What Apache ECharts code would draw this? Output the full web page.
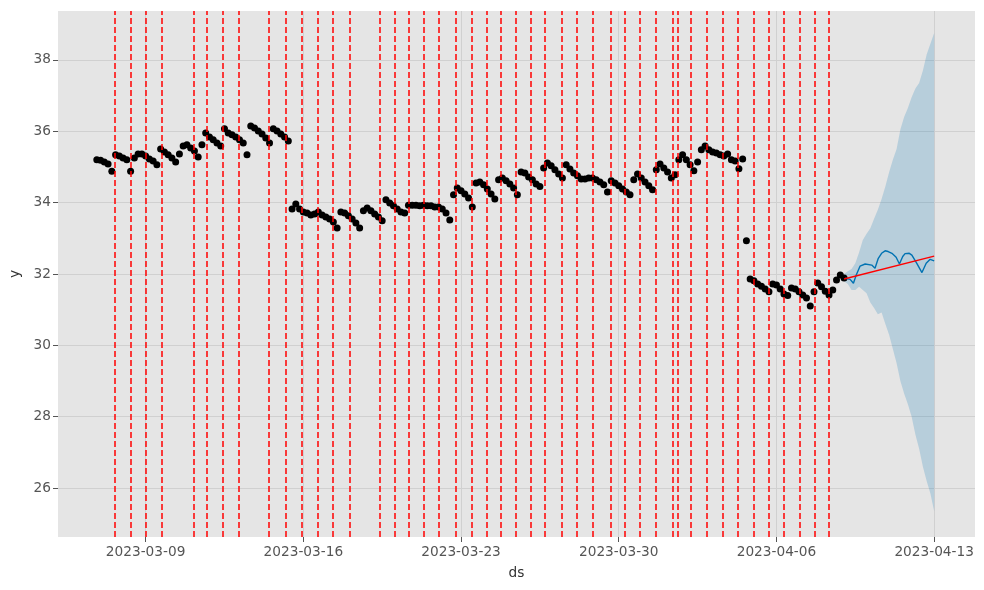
<!DOCTYPE html>
<html>
<head>
<meta charset="utf-8">
<title>forecast with changepoints</title>
<script src="https://cdn.jsdelivr.net/npm/echarts@6/dist/echarts.min.js"></script>
<style>
  html, body { margin: 0; padding: 0; background: #fff; }
  #chart { width: 984px; height: 590px; }
</style>
</head>
<body>
<div id="chart"></div>
<script>
  // observed y, one point every 4 hours
  const obsStart = '2023-03-06 20:00';
  const obsStepHours = 4;
  const obsValues = [
    35.20, 35.19, 35.14, 35.08, 34.88, 35.34, 35.31, 35.25, 35.20, 34.88,
    35.25, 35.36, 35.36, 35.31, 35.22, 35.17, 35.06, 35.50, 35.42, 35.34,
    35.25, 35.14, 35.36, 35.59, 35.62, 35.53, 35.45, 35.28, 35.62, 35.95,
    35.84, 35.76, 35.67, 35.59, 36.07, 35.95, 35.90, 35.84, 35.76, 35.67,
    35.34, 36.15, 36.09, 36.01, 35.92, 35.81, 35.67, 36.07, 36.01, 35.92,
    35.84, 35.73, 33.82, 33.96, 33.82, 33.74, 33.71, 33.65, 33.68, 33.74,
    33.65, 33.60, 33.54, 33.46, 33.29, 33.74, 33.71, 33.63, 33.54, 33.43,
    33.29, 33.77, 33.85, 33.77, 33.68, 33.60, 33.49, 34.08, 33.99, 33.91,
    33.82, 33.74, 33.71, 33.93, 33.93, 33.93, 33.91, 33.93, 33.91, 33.91,
    33.88, 33.88, 33.82, 33.71, 33.51, 34.22, 34.41, 34.33, 34.24, 34.13,
    33.88, 34.55, 34.58, 34.50, 34.38, 34.24, 34.10, 34.64, 34.69, 34.61,
    34.52, 34.41, 34.22, 34.86, 34.83, 34.72, 34.64, 34.52, 34.45, 34.97,
    35.11, 35.03, 34.92, 34.80, 34.69, 35.06, 34.94, 34.83, 34.75, 34.66,
    34.66, 34.69, 34.69, 34.64, 34.58, 34.50, 34.30, 34.61, 34.55, 34.47,
    34.38, 34.30, 34.22, 34.64, 34.80, 34.69, 34.58, 34.47, 34.36, 34.92,
    35.08, 34.97, 34.86, 34.69, 34.78, 35.20, 35.34, 35.20, 35.06, 34.89,
    35.14, 35.48, 35.59, 35.48, 35.42, 35.39, 35.34, 35.31, 35.36, 35.20,
    35.17, 34.95, 35.22, 32.93, 31.86, 31.81, 31.72, 31.66, 31.58, 31.50,
    31.72, 31.69, 31.58, 31.44, 31.40, 31.61, 31.58, 31.50, 31.41, 31.33,
    31.10, 31.50, 31.75, 31.64, 31.52, 31.41, 31.55, 31.83, 31.97, 31.89
  ];

  // forecast yhat
  const yhatTimes = [
    '2023-04-09 01:00', '2023-04-09 06:30', '2023-04-09 10:00', '2023-04-09 13:00',
    '2023-04-09 17:00', '2023-04-09 22:30', '2023-04-10 05:30', '2023-04-10 09:00',
    '2023-04-10 12:30', '2023-04-10 16:00', '2023-04-10 19:45', '2023-04-10 23:00',
    '2023-04-11 03:00', '2023-04-11 07:30', '2023-04-11 11:00', '2023-04-11 14:30',
    '2023-04-11 17:00', '2023-04-11 19:00', '2023-04-11 21:30', '2023-04-12 00:15',
    '2023-04-12 05:30', '2023-04-12 11:00', '2023-04-12 15:30', '2023-04-12 19:45',
    '2023-04-13 00:00'
  ];
  const yhatValues = [
    31.88, 31.85, 31.74, 31.97,
    32.22, 32.28, 32.25, 32.16,
    32.44, 32.58, 32.65, 32.63,
    32.58, 32.47, 32.28, 32.49,
    32.57, 32.60, 32.58, 32.53,
    32.30, 32.04, 32.30, 32.41,
    32.37
  ];

  // uncertainty band, one point every 4 hours
  const bandStart = '2023-04-09 00:00';
  const bandStepHours = 4;
  const bandUpper = [
    32.00, 32.08, 32.14, 32.30, 32.60, 32.95, 33.13, 33.28, 33.55, 33.80,
    34.10, 34.45, 34.85, 35.20, 35.50, 36.05, 36.40, 36.65, 36.95, 37.20,
    37.35, 37.70, 38.15, 38.45, 38.75
  ];
  const bandLower = [
    31.80, 31.72, 31.55, 31.55, 31.64, 31.55, 31.46, 31.20, 31.05, 30.87,
    30.92, 30.60, 30.30, 29.90, 29.50, 29.00, 28.65, 28.35, 28.00, 27.50,
    27.10, 26.60, 26.20, 25.85, 25.35
  ];

  // trend
  const trendTimes = ['2023-04-09 00:00', '2023-04-13 00:00'];
  const trendValues = [31.86, 32.50];

  // changepoints
  const changepoints = [
    '2023-03-07 15:00', '2023-03-08 08:00', '2023-03-09 00:00', '2023-03-09 17:00',
    '2023-03-11 03:00', '2023-03-11 17:00', '2023-03-12 10:00', '2023-03-13 03:00',
    '2023-03-14 11:00', '2023-03-15 05:00', '2023-03-15 22:00', '2023-03-16 15:00',
    '2023-03-17 07:00', '2023-03-18 01:00', '2023-03-19 09:00', '2023-03-20 01:00',
    '2023-03-20 16:00', '2023-03-21 08:00', '2023-03-22 00:00', '2023-03-22 18:00',
    '2023-03-23 11:00', '2023-03-24 03:00', '2023-03-24 18:00', '2023-03-25 10:00',
    '2023-03-26 02:00', '2023-03-26 17:00', '2023-03-27 11:00', '2023-03-28 03:00',
    '2023-03-28 20:00', '2023-03-29 15:00', '2023-03-30 06:00', '2023-03-30 22:00',
    '2023-03-31 15:00', '2023-04-01 09:00', '2023-04-01 15:00', '2023-04-02 05:00',
    '2023-04-02 22:00', '2023-04-03 15:00', '2023-04-04 07:00', '2023-04-05 00:00',
    '2023-04-05 16:00', '2023-04-06 08:00', '2023-04-07 01:00', '2023-04-07 17:00',
    '2023-04-08 08:00'
  ];

  // axis ticks
  const xTicks = ['2023-03-09', '2023-03-16', '2023-03-23', '2023-03-30', '2023-04-06', '2023-04-13'];
  const yTicks = [26, 28, 30, 32, 34, 36, 38];

  function ts(s) {
    const parts = s.split(' ');
    const d = parts[0].split('-').map(Number);
    const t = (parts[1] || '00:00').split(':').map(Number);
    return Date.UTC(d[0], d[1] - 1, d[2], t[0], t[1]);
  }
  const HOUR = 3600 * 1000;

  const obsData = obsValues.map((v, i) => [ts(obsStart) + i * obsStepHours * HOUR, v]);
  const bandTs = bandUpper.map((v, i) => ts(bandStart) + i * bandStepHours * HOUR);
  const bandData = bandTs.map((t, i) => [t, bandLower[i], bandUpper[i]]);
  const yhatData = yhatTimes.map((t, i) => [ts(t), yhatValues[i]]);
  const trendData = trendTimes.map((t, i) => [ts(t), trendValues[i]]);
  const xTickTs = xTicks.map(ts);

  function pad(n) { return n < 10 ? '0' + n : '' + n; }
  function fmtDate(v) {
    const d = new Date(v);
    return d.getUTCFullYear() + '-' + pad(d.getUTCMonth() + 1) + '-' + pad(d.getUTCDate());
  }

  const chart = echarts.init(document.getElementById('chart'));
  chart.setOption({
    animation: false,
    backgroundColor: '#ffffff',
    textStyle: { fontFamily: 'DejaVu Sans' },
    grid: {
      left: 58, right: 9, top: 11, bottom: 53,
      outerBoundsMode: 'none',
      containLabel: false,
      show: true, backgroundColor: '#e5e5e5', borderWidth: 0
    },
    xAxis: {
      type: 'value',
      min: ts('2023-03-05 02:40'),
      max: ts('2023-04-14 19:30'),
      name: 'ds',
      nameLocation: 'middle',
      nameGap: 29,
      nameTextStyle: { color: '#333', fontSize: 13.7 },
      axisLine: { show: false },
      axisTick: { show: true, length: 5, customValues: xTickTs, lineStyle: { color: '#555' } },
      axisLabel: { customValues: xTickTs, formatter: fmtDate, color: '#555', fontSize: 13.7, margin: 8 },
      splitLine: { show: false }
    },
    yAxis: {
      type: 'value',
      min: 24.63,
      max: 39.37,
      name: 'y',
      nameLocation: 'middle',
      nameGap: 35,
      nameRotate: 90,
      nameTextStyle: { color: '#333', fontSize: 13.7 },
      axisLine: { show: false },
      axisTick: { show: true, length: 5, customValues: yTicks, lineStyle: { color: '#555' } },
      axisLabel: { customValues: yTicks, color: '#555', fontSize: 13.7, margin: 7 },
      splitLine: { show: false }
    },
    series: [
      {
        // grid lines
        type: 'line',
        data: [],
        silent: true,
        z: 1,
        markLine: {
          silent: true,
          symbol: 'none',
          z: 1,
          label: { show: false },
          lineStyle: { color: '#d0d0d0', width: 1, type: 'solid' },
          data: xTickTs.map(t => ({ xAxis: t })).concat(yTicks.map(v => ({ yAxis: v })))
        }
      },
      {
        type: 'custom',
        z: 2,
        silent: true,
        data: bandData,
        encode: { x: 0, y: [1, 2] },
        renderItem: function (params, api) {
          if (params.dataIndex !== 0) return;
          const up = bandTs.map((t, i) => api.coord([t, bandUpper[i]]));
          const lo = bandTs.map((t, i) => api.coord([t, bandLower[i]])).reverse();
          return {
            type: 'polygon',
            shape: { points: up.concat(lo) },
            style: { fill: 'rgba(0,114,178,0.2)' }
          };
        }
      },
      {
        type: 'scatter',
        z: 3,
        data: obsData,
        symbolSize: 7,
        itemStyle: { color: '#000', opacity: 1 }
      },
      {
        type: 'line',
        z: 4,
        data: yhatData,
        showSymbol: false,
        lineStyle: { color: '#0072B2', width: 1.4 }
      },
      {
        type: 'line',
        z: 5,
        data: trendData,
        showSymbol: false,
        lineStyle: { color: '#ff0000', width: 1.4 },
        markLine: {
          silent: true,
          symbol: 'none',
          z: 10,
          label: { show: false },
          lineStyle: { color: '#ff0000', width: 1.5, type: [6, 3] },
          data: changepoints.map(c => ({ xAxis: ts(c) }))
        }
      }
    ]
  });
</script>
</body>
</html>
